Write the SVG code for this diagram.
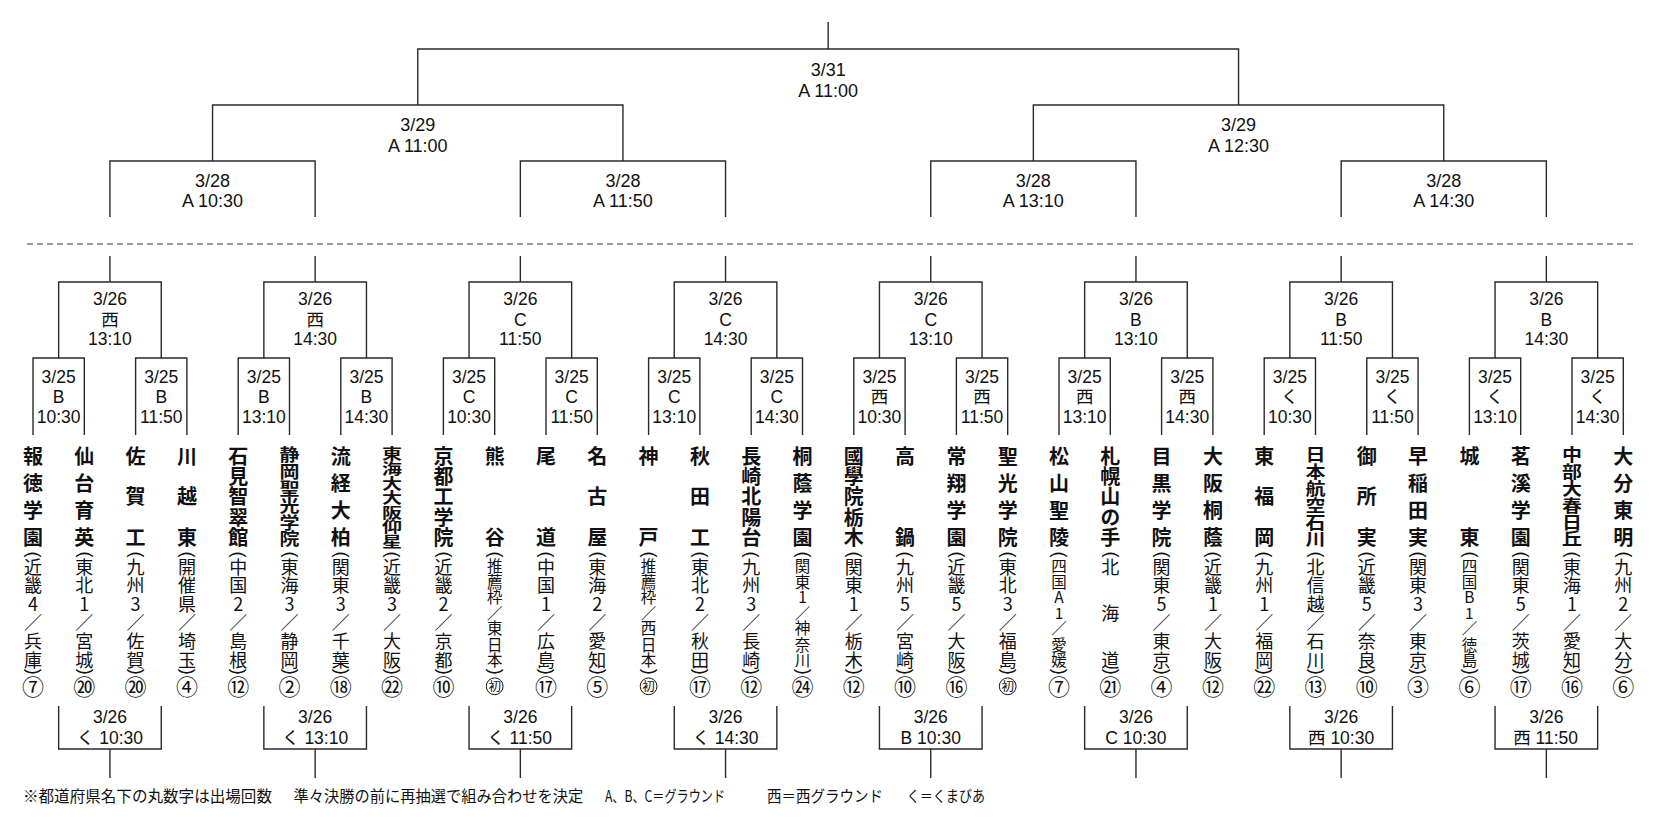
<svg xmlns="http://www.w3.org/2000/svg" width="1664" height="817" viewBox="0 0 1664 817">
<style>
.ln{fill:none;stroke:#2a2a2a;stroke-width:1.4}
.dash{fill:none;stroke:#3a3a3a;stroke-width:1.2;stroke-dasharray:6 4}
.lb{font-family:"Liberation Sans","Noto Sans CJK JP",sans-serif;font-size:18px;text-anchor:middle;fill:#111}
.ls{font-family:"Liberation Sans","Noto Sans CJK JP",sans-serif;font-size:17.5px;text-anchor:middle;fill:#111}
.lt{font-family:"Liberation Sans","Noto Sans CJK JP",sans-serif;font-size:17.5px;text-anchor:start;fill:#111}
.v{writing-mode:vertical-rl;text-orientation:upright;text-anchor:middle;fill:#111}
.vl{font-family:"Noto Sans CJK JP",sans-serif;font-size:17.5px}
.nm{font-family:"Noto Sans CJK JP",sans-serif;font-size:20px;font-weight:700}
.rg{font-family:"Noto Sans CJK JP","Liberation Sans",sans-serif;font-size:18px}
.rs{font-family:"Noto Sans CJK JP","Liberation Sans",sans-serif;font-size:15.5px}
.ct{font-family:"Noto Sans CJK JP",sans-serif;font-size:22px}
.cs{font-family:"Noto Sans CJK JP",sans-serif;font-size:12.5px}
.pr{font-family:"Liberation Sans",sans-serif;font-size:18px;text-anchor:middle;fill:#111}
.cc{fill:none;stroke:#111;stroke-width:1}
.nt{font-family:"Noto Sans CJK JP",sans-serif;font-size:15.5px;fill:#111}
</style>
<rect width="1664" height="817" fill="#fff"/>

<g id="connectors">
<path class="ln" d="M417.75,105 V49 H1238.55 V105 M828.15,49 V22"/>
<path class="ln" d="M212.55,161 V105 H622.95 V161"/>
<path class="ln" d="M1033.35,161 V105 H1443.75 V161"/>
<path class="ln" d="M109.95,217 V161 H315.15 V217"/>
<path class="ln" d="M520.35,217 V161 H725.55 V217"/>
<path class="ln" d="M930.75,217 V161 H1135.95 V217"/>
<path class="ln" d="M1341.15,217 V161 H1546.35 V217"/>
<path class="dash" d="M27,244 H1634"/>
<path class="ln" d="M109.95,256 V282 M58.65,358 V282 H161.25 V358"/>
<path class="ln" d="M315.15,256 V282 M263.85,358 V282 H366.45 V358"/>
<path class="ln" d="M520.35,256 V282 M469.05,358 V282 H571.65 V358"/>
<path class="ln" d="M725.55,256 V282 M674.25,358 V282 H776.85 V358"/>
<path class="ln" d="M930.75,256 V282 M879.45,358 V282 H982.05 V358"/>
<path class="ln" d="M1135.95,256 V282 M1084.65,358 V282 H1187.25 V358"/>
<path class="ln" d="M1341.15,256 V282 M1289.85,358 V282 H1392.45 V358"/>
<path class="ln" d="M1546.35,256 V282 M1495.05,358 V282 H1597.65 V358"/>
<path class="ln" d="M33,435 V358 H84.3 V435"/>
<path class="ln" d="M135.6,435 V358 H186.9 V435"/>
<path class="ln" d="M238.2,435 V358 H289.5 V435"/>
<path class="ln" d="M340.8,435 V358 H392.1 V435"/>
<path class="ln" d="M443.4,435 V358 H494.7 V435"/>
<path class="ln" d="M546,435 V358 H597.3 V435"/>
<path class="ln" d="M648.6,435 V358 H699.9 V435"/>
<path class="ln" d="M751.2,435 V358 H802.5 V435"/>
<path class="ln" d="M853.8,435 V358 H905.1 V435"/>
<path class="ln" d="M956.4,435 V358 H1007.7 V435"/>
<path class="ln" d="M1059,435 V358 H1110.3 V435"/>
<path class="ln" d="M1161.6,435 V358 H1212.9 V435"/>
<path class="ln" d="M1264.2,435 V358 H1315.5 V435"/>
<path class="ln" d="M1366.8,435 V358 H1418.1 V435"/>
<path class="ln" d="M1469.4,435 V358 H1520.7 V435"/>
<path class="ln" d="M1572,435 V358 H1623.3 V435"/>
<path class="ln" d="M58.65,706 V749 H161.25 V706 M109.95,749 V778"/>
<path class="ln" d="M263.85,706 V749 H366.45 V706 M315.15,749 V778"/>
<path class="ln" d="M469.05,706 V749 H571.65 V706 M520.35,749 V778"/>
<path class="ln" d="M674.25,706 V749 H776.85 V706 M725.55,749 V778"/>
<path class="ln" d="M879.45,706 V749 H982.05 V706 M930.75,749 V778"/>
<path class="ln" d="M1084.65,706 V749 H1187.25 V706 M1135.95,749 V778"/>
<path class="ln" d="M1289.85,706 V749 H1392.45 V706 M1341.15,749 V778"/>
<path class="ln" d="M1495.05,706 V749 H1597.65 V706 M1546.35,749 V778"/>
</g>

<g id="final"><text class="lb"><tspan x="828.15" y="75.5">3/31</tspan><tspan x="828.15" y="96.5">A 11:00</tspan></text></g>
<g id="sf1"><text class="lb"><tspan x="417.75" y="130.5">3/29</tspan><tspan x="417.75" y="151.5">A 11:00</tspan></text></g>
<g id="sf2"><text class="lb"><tspan x="1238.55" y="130.5">3/29</tspan><tspan x="1238.55" y="151.5">A 12:30</tspan></text></g>
<g id="qf1"><text class="lb"><tspan x="212.55" y="186.5">3/28</tspan><tspan x="212.55" y="206.8">A 10:30</tspan></text></g>
<g id="qf2"><text class="lb"><tspan x="622.95" y="186.5">3/28</tspan><tspan x="622.95" y="206.8">A 11:50</tspan></text></g>
<g id="qf3"><text class="lb"><tspan x="1033.35" y="186.5">3/28</tspan><tspan x="1033.35" y="206.8">A 13:10</tspan></text></g>
<g id="qf4"><text class="lb"><tspan x="1443.75" y="186.5">3/28</tspan><tspan x="1443.75" y="206.8">A 14:30</tspan></text></g>

<g id="r2-1"><text class="ls"><tspan x="109.95" y="304.6">3/26</tspan><tspan x="109.95" y="344.6">13:10</tspan></text><text class="v vl" x="109.95" y="319">西</text></g>
<g id="r2-2"><text class="ls"><tspan x="315.15" y="304.6">3/26</tspan><tspan x="315.15" y="344.6">14:30</tspan></text><text class="v vl" x="315.15" y="319">西</text></g>
<g id="r2-3"><text class="ls"><tspan x="520.35" y="304.6">3/26</tspan><tspan x="520.35" y="325.5">C</tspan><tspan x="520.35" y="344.6">11:50</tspan></text></g>
<g id="r2-4"><text class="ls"><tspan x="725.55" y="304.6">3/26</tspan><tspan x="725.55" y="325.5">C</tspan><tspan x="725.55" y="344.6">14:30</tspan></text></g>
<g id="r2-5"><text class="ls"><tspan x="930.75" y="304.6">3/26</tspan><tspan x="930.75" y="325.5">C</tspan><tspan x="930.75" y="344.6">13:10</tspan></text></g>
<g id="r2-6"><text class="ls"><tspan x="1135.95" y="304.6">3/26</tspan><tspan x="1135.95" y="325.5">B</tspan><tspan x="1135.95" y="344.6">13:10</tspan></text></g>
<g id="r2-7"><text class="ls"><tspan x="1341.15" y="304.6">3/26</tspan><tspan x="1341.15" y="325.5">B</tspan><tspan x="1341.15" y="344.6">11:50</tspan></text></g>
<g id="r2-8"><text class="ls"><tspan x="1546.35" y="304.6">3/26</tspan><tspan x="1546.35" y="325.5">B</tspan><tspan x="1546.35" y="344.6">14:30</tspan></text></g>

<g id="r1-1"><text class="ls"><tspan x="58.65" y="382.6">3/25</tspan><tspan x="58.65" y="402.6">B</tspan><tspan x="58.65" y="423">10:30</tspan></text></g>
<g id="r1-2"><text class="ls"><tspan x="161.25" y="382.6">3/25</tspan><tspan x="161.25" y="402.6">B</tspan><tspan x="161.25" y="423">11:50</tspan></text></g>
<g id="r1-3"><text class="ls"><tspan x="263.85" y="382.6">3/25</tspan><tspan x="263.85" y="402.6">B</tspan><tspan x="263.85" y="423">13:10</tspan></text></g>
<g id="r1-4"><text class="ls"><tspan x="366.45" y="382.6">3/25</tspan><tspan x="366.45" y="402.6">B</tspan><tspan x="366.45" y="423">14:30</tspan></text></g>
<g id="r1-5"><text class="ls"><tspan x="469.05" y="382.6">3/25</tspan><tspan x="469.05" y="402.6">C</tspan><tspan x="469.05" y="423">10:30</tspan></text></g>
<g id="r1-6"><text class="ls"><tspan x="571.65" y="382.6">3/25</tspan><tspan x="571.65" y="402.6">C</tspan><tspan x="571.65" y="423">11:50</tspan></text></g>
<g id="r1-7"><text class="ls"><tspan x="674.25" y="382.6">3/25</tspan><tspan x="674.25" y="402.6">C</tspan><tspan x="674.25" y="423">13:10</tspan></text></g>
<g id="r1-8"><text class="ls"><tspan x="776.85" y="382.6">3/25</tspan><tspan x="776.85" y="402.6">C</tspan><tspan x="776.85" y="423">14:30</tspan></text></g>
<g id="r1-9"><text class="ls"><tspan x="879.45" y="382.6">3/25</tspan><tspan x="879.45" y="423">10:30</tspan></text><text class="v vl" x="879.45" y="396">西</text></g>
<g id="r1-10"><text class="ls"><tspan x="982.05" y="382.6">3/25</tspan><tspan x="982.05" y="423">11:50</tspan></text><text class="v vl" x="982.05" y="396">西</text></g>
<g id="r1-11"><text class="ls"><tspan x="1084.65" y="382.6">3/25</tspan><tspan x="1084.65" y="423">13:10</tspan></text><text class="v vl" x="1084.65" y="396">西</text></g>
<g id="r1-12"><text class="ls"><tspan x="1187.25" y="382.6">3/25</tspan><tspan x="1187.25" y="423">14:30</tspan></text><text class="v vl" x="1187.25" y="396">西</text></g>
<g id="r1-13"><text class="ls"><tspan x="1289.85" y="382.6">3/25</tspan><tspan x="1289.85" y="423">10:30</tspan></text><text class="v vl" x="1289.85" y="396">く</text></g>
<g id="r1-14"><text class="ls"><tspan x="1392.45" y="382.6">3/25</tspan><tspan x="1392.45" y="423">11:50</tspan></text><text class="v vl" x="1392.45" y="396">く</text></g>
<g id="r1-15"><text class="ls"><tspan x="1495.05" y="382.6">3/25</tspan><tspan x="1495.05" y="423">13:10</tspan></text><text class="v vl" x="1495.05" y="396">く</text></g>
<g id="r1-16"><text class="ls"><tspan x="1597.65" y="382.6">3/25</tspan><tspan x="1597.65" y="423">14:30</tspan></text><text class="v vl" x="1597.65" y="396">く</text></g>

<g id="cs-1"><text class="ls" x="109.95" y="722.5">3/26</text><text class="v vl" x="85.6" y="737.4">く</text><text class="lt" x="99.2" y="744">10:30</text></g>
<g id="cs-2"><text class="ls" x="315.15" y="722.5">3/26</text><text class="v vl" x="290.8" y="737.4">く</text><text class="lt" x="304.4" y="744">13:10</text></g>
<g id="cs-3"><text class="ls" x="520.35" y="722.5">3/26</text><text class="v vl" x="496" y="737.4">く</text><text class="lt" x="509.6" y="744">11:50</text></g>
<g id="cs-4"><text class="ls" x="725.55" y="722.5">3/26</text><text class="v vl" x="701.2" y="737.4">く</text><text class="lt" x="714.8" y="744">14:30</text></g>
<g id="cs-5"><text class="ls"><tspan x="930.75" y="722.5">3/26</tspan><tspan x="930.75" y="744">B 10:30</tspan></text></g>
<g id="cs-6"><text class="ls"><tspan x="1135.95" y="722.5">3/26</tspan><tspan x="1135.95" y="744">C 10:30</tspan></text></g>
<g id="cs-7"><text class="ls" x="1341.15" y="722.5">3/26</text><text class="v vl" x="1316.8" y="737.4">西</text><text class="lt" x="1330.4" y="744">10:30</text></g>
<g id="cs-8"><text class="ls" x="1546.35" y="722.5">3/26</text><text class="v vl" x="1522" y="737.4">西</text><text class="lt" x="1535.6" y="744">11:50</text></g>

<g id="t00">
<text class="v nm"><tspan x="33" y="456.2">報</tspan><tspan x="33" y="483.3">徳</tspan><tspan x="33" y="510.4">学</tspan><tspan x="33" y="537.5">園</tspan></text>
<text class="pr" transform="translate(33,554.5) rotate(90)" y="4.7">(</text>
<text class="v rg"><tspan x="33" y="566.7">近</tspan><tspan x="33" y="585.3">畿</tspan><tspan x="33" y="603.9">4</tspan><tspan x="33" y="622.5">／</tspan><tspan x="33" y="641.1">兵</tspan><tspan x="33" y="659.7">庫</tspan></text>
<text class="pr" transform="translate(33,671.8) rotate(90)" y="4.7">)</text>
<text class="v ct" x="33" y="686.5">⑦</text>
</g>
<g id="t01">
<text class="v nm"><tspan x="84.3" y="456.2">仙</tspan><tspan x="84.3" y="483.3">台</tspan><tspan x="84.3" y="510.4">育</tspan><tspan x="84.3" y="537.5">英</tspan></text>
<text class="pr" transform="translate(84.3,554.5) rotate(90)" y="4.7">(</text>
<text class="v rg"><tspan x="84.3" y="566.7">東</tspan><tspan x="84.3" y="585.3">北</tspan><tspan x="84.3" y="603.9">1</tspan><tspan x="84.3" y="622.5">／</tspan><tspan x="84.3" y="641.1">宮</tspan><tspan x="84.3" y="659.7">城</tspan></text>
<text class="pr" transform="translate(84.3,671.8) rotate(90)" y="4.7">)</text>
<text class="v ct" x="84.3" y="686.5">⑳</text>
</g>
<g id="t02">
<text class="v nm"><tspan x="135.6" y="456.2">佐</tspan><tspan x="135.6" y="496.85">賀</tspan><tspan x="135.6" y="537.5">工</tspan></text>
<text class="pr" transform="translate(135.6,554.5) rotate(90)" y="4.7">(</text>
<text class="v rg"><tspan x="135.6" y="566.7">九</tspan><tspan x="135.6" y="585.3">州</tspan><tspan x="135.6" y="603.9">3</tspan><tspan x="135.6" y="622.5">／</tspan><tspan x="135.6" y="641.1">佐</tspan><tspan x="135.6" y="659.7">賀</tspan></text>
<text class="pr" transform="translate(135.6,671.8) rotate(90)" y="4.7">)</text>
<text class="v ct" x="135.6" y="686.5">⑳</text>
</g>
<g id="t03">
<text class="v nm"><tspan x="186.9" y="456.2">川</tspan><tspan x="186.9" y="496.85">越</tspan><tspan x="186.9" y="537.5">東</tspan></text>
<text class="pr" transform="translate(186.9,554.5) rotate(90)" y="4.7">(</text>
<text class="v rg"><tspan x="186.9" y="566.7">開</tspan><tspan x="186.9" y="585.3">催</tspan><tspan x="186.9" y="603.9">県</tspan><tspan x="186.9" y="622.5">／</tspan><tspan x="186.9" y="641.1">埼</tspan><tspan x="186.9" y="659.7">玉</tspan></text>
<text class="pr" transform="translate(186.9,671.8) rotate(90)" y="4.7">)</text>
<text class="v ct" x="186.9" y="686.5">④</text>
</g>
<g id="t04">
<text class="v nm"><tspan x="238.2" y="456.2">石</tspan><tspan x="238.2" y="476.5">見</tspan><tspan x="238.2" y="496.85">智</tspan><tspan x="238.2" y="517.2">翠</tspan><tspan x="238.2" y="537.5">館</tspan></text>
<text class="pr" transform="translate(238.2,554.5) rotate(90)" y="4.7">(</text>
<text class="v rg"><tspan x="238.2" y="566.7">中</tspan><tspan x="238.2" y="585.3">国</tspan><tspan x="238.2" y="603.9">2</tspan><tspan x="238.2" y="622.5">／</tspan><tspan x="238.2" y="641.1">島</tspan><tspan x="238.2" y="659.7">根</tspan></text>
<text class="pr" transform="translate(238.2,671.8) rotate(90)" y="4.7">)</text>
<text class="v ct" x="238.2" y="686.5">⑫</text>
</g>
<g id="t05">
<text class="v nm" transform="matrix(1 0 0 0.83 0 0)"><tspan x="289.5" y="548.19">静</tspan><tspan x="289.5" y="568.43">岡</tspan><tspan x="289.5" y="588.67">聖</tspan><tspan x="289.5" y="608.92">光</tspan><tspan x="289.5" y="629.16">学</tspan><tspan x="289.5" y="649.4">院</tspan></text>
<text class="pr" transform="translate(289.5,554.5) rotate(90)" y="4.7">(</text>
<text class="v rg"><tspan x="289.5" y="566.7">東</tspan><tspan x="289.5" y="585.3">海</tspan><tspan x="289.5" y="603.9">3</tspan><tspan x="289.5" y="622.5">／</tspan><tspan x="289.5" y="641.1">静</tspan><tspan x="289.5" y="659.7">岡</tspan></text>
<text class="pr" transform="translate(289.5,671.8) rotate(90)" y="4.7">)</text>
<text class="v ct" x="289.5" y="686.5">②</text>
</g>
<g id="t06">
<text class="v nm"><tspan x="340.8" y="456.2">流</tspan><tspan x="340.8" y="483.3">経</tspan><tspan x="340.8" y="510.4">大</tspan><tspan x="340.8" y="537.5">柏</tspan></text>
<text class="pr" transform="translate(340.8,554.5) rotate(90)" y="4.7">(</text>
<text class="v rg"><tspan x="340.8" y="566.7">関</tspan><tspan x="340.8" y="585.3">東</tspan><tspan x="340.8" y="603.9">3</tspan><tspan x="340.8" y="622.5">／</tspan><tspan x="340.8" y="641.1">千</tspan><tspan x="340.8" y="659.7">葉</tspan></text>
<text class="pr" transform="translate(340.8,671.8) rotate(90)" y="4.7">)</text>
<text class="v ct" x="340.8" y="686.5">⑱</text>
</g>
<g id="t07">
<text class="v nm" transform="matrix(1 0 0 0.72 0 0)"><tspan x="392.1" y="630.56">東</tspan><tspan x="392.1" y="650.69">海</tspan><tspan x="392.1" y="670.83">大</tspan><tspan x="392.1" y="690.97">大</tspan><tspan x="392.1" y="711.11">阪</tspan><tspan x="392.1" y="731.25">仰</tspan><tspan x="392.1" y="751.39">星</tspan></text>
<text class="pr" transform="translate(392.1,554.5) rotate(90)" y="4.7">(</text>
<text class="v rg"><tspan x="392.1" y="566.7">近</tspan><tspan x="392.1" y="585.3">畿</tspan><tspan x="392.1" y="603.9">3</tspan><tspan x="392.1" y="622.5">／</tspan><tspan x="392.1" y="641.1">大</tspan><tspan x="392.1" y="659.7">阪</tspan></text>
<text class="pr" transform="translate(392.1,671.8) rotate(90)" y="4.7">)</text>
<text class="v ct" x="392.1" y="686.5">㉒</text>
</g>
<g id="t08">
<text class="v nm"><tspan x="443.4" y="456.2">京</tspan><tspan x="443.4" y="476.5">都</tspan><tspan x="443.4" y="496.85">工</tspan><tspan x="443.4" y="517.2">学</tspan><tspan x="443.4" y="537.5">院</tspan></text>
<text class="pr" transform="translate(443.4,554.5) rotate(90)" y="4.7">(</text>
<text class="v rg"><tspan x="443.4" y="566.7">近</tspan><tspan x="443.4" y="585.3">畿</tspan><tspan x="443.4" y="603.9">2</tspan><tspan x="443.4" y="622.5">／</tspan><tspan x="443.4" y="641.1">京</tspan><tspan x="443.4" y="659.7">都</tspan></text>
<text class="pr" transform="translate(443.4,671.8) rotate(90)" y="4.7">)</text>
<text class="v ct" x="443.4" y="686.5">⑩</text>
</g>
<g id="t09">
<text class="v nm"><tspan x="494.7" y="456.2">熊</tspan><tspan x="494.7" y="537.5">谷</tspan></text>
<text class="pr" transform="translate(494.7,554.5) rotate(90)" y="4.7">(</text>
<text class="v rs"><tspan x="494.7" y="565.7">推</tspan><tspan x="494.7" y="581.4">薦</tspan><tspan x="494.7" y="597.1">枠</tspan><tspan x="494.7" y="612.9">／</tspan><tspan x="494.7" y="628.6">東</tspan><tspan x="494.7" y="644.3">日</tspan><tspan x="494.7" y="659.9">本</tspan></text>
<text class="pr" transform="translate(494.7,671.8) rotate(90)" y="4.7">)</text>
<circle class="cc" cx="494.7" cy="686.3" r="8.4"/><text class="v cs" x="494.7" y="686.3">初</text>
</g>
<g id="t10">
<text class="v nm"><tspan x="546" y="456.2">尾</tspan><tspan x="546" y="537.5">道</tspan></text>
<text class="pr" transform="translate(546,554.5) rotate(90)" y="4.7">(</text>
<text class="v rg"><tspan x="546" y="566.7">中</tspan><tspan x="546" y="585.3">国</tspan><tspan x="546" y="603.9">1</tspan><tspan x="546" y="622.5">／</tspan><tspan x="546" y="641.1">広</tspan><tspan x="546" y="659.7">島</tspan></text>
<text class="pr" transform="translate(546,671.8) rotate(90)" y="4.7">)</text>
<text class="v ct" x="546" y="686.5">⑰</text>
</g>
<g id="t11">
<text class="v nm"><tspan x="597.3" y="456.2">名</tspan><tspan x="597.3" y="496.85">古</tspan><tspan x="597.3" y="537.5">屋</tspan></text>
<text class="pr" transform="translate(597.3,554.5) rotate(90)" y="4.7">(</text>
<text class="v rg"><tspan x="597.3" y="566.7">東</tspan><tspan x="597.3" y="585.3">海</tspan><tspan x="597.3" y="603.9">2</tspan><tspan x="597.3" y="622.5">／</tspan><tspan x="597.3" y="641.1">愛</tspan><tspan x="597.3" y="659.7">知</tspan></text>
<text class="pr" transform="translate(597.3,671.8) rotate(90)" y="4.7">)</text>
<text class="v ct" x="597.3" y="686.5">⑤</text>
</g>
<g id="t12">
<text class="v nm"><tspan x="648.6" y="456.2">神</tspan><tspan x="648.6" y="537.5">戸</tspan></text>
<text class="pr" transform="translate(648.6,554.5) rotate(90)" y="4.7">(</text>
<text class="v rs"><tspan x="648.6" y="565.7">推</tspan><tspan x="648.6" y="581.4">薦</tspan><tspan x="648.6" y="597.1">枠</tspan><tspan x="648.6" y="612.9">／</tspan><tspan x="648.6" y="628.6">西</tspan><tspan x="648.6" y="644.3">日</tspan><tspan x="648.6" y="659.9">本</tspan></text>
<text class="pr" transform="translate(648.6,671.8) rotate(90)" y="4.7">)</text>
<circle class="cc" cx="648.6" cy="686.3" r="8.4"/><text class="v cs" x="648.6" y="686.3">初</text>
</g>
<g id="t13">
<text class="v nm"><tspan x="699.9" y="456.2">秋</tspan><tspan x="699.9" y="496.85">田</tspan><tspan x="699.9" y="537.5">工</tspan></text>
<text class="pr" transform="translate(699.9,554.5) rotate(90)" y="4.7">(</text>
<text class="v rg"><tspan x="699.9" y="566.7">東</tspan><tspan x="699.9" y="585.3">北</tspan><tspan x="699.9" y="603.9">2</tspan><tspan x="699.9" y="622.5">／</tspan><tspan x="699.9" y="641.1">秋</tspan><tspan x="699.9" y="659.7">田</tspan></text>
<text class="pr" transform="translate(699.9,671.8) rotate(90)" y="4.7">)</text>
<text class="v ct" x="699.9" y="686.5">⑰</text>
</g>
<g id="t14">
<text class="v nm"><tspan x="751.2" y="456.2">長</tspan><tspan x="751.2" y="476.5">崎</tspan><tspan x="751.2" y="496.85">北</tspan><tspan x="751.2" y="517.2">陽</tspan><tspan x="751.2" y="537.5">台</tspan></text>
<text class="pr" transform="translate(751.2,554.5) rotate(90)" y="4.7">(</text>
<text class="v rg"><tspan x="751.2" y="566.7">九</tspan><tspan x="751.2" y="585.3">州</tspan><tspan x="751.2" y="603.9">3</tspan><tspan x="751.2" y="622.5">／</tspan><tspan x="751.2" y="641.1">長</tspan><tspan x="751.2" y="659.7">崎</tspan></text>
<text class="pr" transform="translate(751.2,671.8) rotate(90)" y="4.7">)</text>
<text class="v ct" x="751.2" y="686.5">⑫</text>
</g>
<g id="t15">
<text class="v nm"><tspan x="802.5" y="456.2">桐</tspan><tspan x="802.5" y="483.3">蔭</tspan><tspan x="802.5" y="510.4">学</tspan><tspan x="802.5" y="537.5">園</tspan></text>
<text class="pr" transform="translate(802.5,554.5) rotate(90)" y="4.7">(</text>
<text class="v rs"><tspan x="802.5" y="565.7">関</tspan><tspan x="802.5" y="581.4">東</tspan><tspan x="802.5" y="597.1">1</tspan><tspan x="802.5" y="612.9">／</tspan><tspan x="802.5" y="628.6">神</tspan><tspan x="802.5" y="644.3">奈</tspan><tspan x="802.5" y="659.9">川</tspan></text>
<text class="pr" transform="translate(802.5,671.8) rotate(90)" y="4.7">)</text>
<text class="v ct" x="802.5" y="686.5">㉔</text>
</g>
<g id="t16">
<text class="v nm"><tspan x="853.8" y="456.2">國</tspan><tspan x="853.8" y="476.5">學</tspan><tspan x="853.8" y="496.85">院</tspan><tspan x="853.8" y="517.2">栃</tspan><tspan x="853.8" y="537.5">木</tspan></text>
<text class="pr" transform="translate(853.8,554.5) rotate(90)" y="4.7">(</text>
<text class="v rg"><tspan x="853.8" y="566.7">関</tspan><tspan x="853.8" y="585.3">東</tspan><tspan x="853.8" y="603.9">1</tspan><tspan x="853.8" y="622.5">／</tspan><tspan x="853.8" y="641.1">栃</tspan><tspan x="853.8" y="659.7">木</tspan></text>
<text class="pr" transform="translate(853.8,671.8) rotate(90)" y="4.7">)</text>
<text class="v ct" x="853.8" y="686.5">⑫</text>
</g>
<g id="t17">
<text class="v nm"><tspan x="905.1" y="456.2">高</tspan><tspan x="905.1" y="537.5">鍋</tspan></text>
<text class="pr" transform="translate(905.1,554.5) rotate(90)" y="4.7">(</text>
<text class="v rg"><tspan x="905.1" y="566.7">九</tspan><tspan x="905.1" y="585.3">州</tspan><tspan x="905.1" y="603.9">5</tspan><tspan x="905.1" y="622.5">／</tspan><tspan x="905.1" y="641.1">宮</tspan><tspan x="905.1" y="659.7">崎</tspan></text>
<text class="pr" transform="translate(905.1,671.8) rotate(90)" y="4.7">)</text>
<text class="v ct" x="905.1" y="686.5">⑩</text>
</g>
<g id="t18">
<text class="v nm"><tspan x="956.4" y="456.2">常</tspan><tspan x="956.4" y="483.3">翔</tspan><tspan x="956.4" y="510.4">学</tspan><tspan x="956.4" y="537.5">園</tspan></text>
<text class="pr" transform="translate(956.4,554.5) rotate(90)" y="4.7">(</text>
<text class="v rg"><tspan x="956.4" y="566.7">近</tspan><tspan x="956.4" y="585.3">畿</tspan><tspan x="956.4" y="603.9">5</tspan><tspan x="956.4" y="622.5">／</tspan><tspan x="956.4" y="641.1">大</tspan><tspan x="956.4" y="659.7">阪</tspan></text>
<text class="pr" transform="translate(956.4,671.8) rotate(90)" y="4.7">)</text>
<text class="v ct" x="956.4" y="686.5">⑯</text>
</g>
<g id="t19">
<text class="v nm"><tspan x="1007.7" y="456.2">聖</tspan><tspan x="1007.7" y="483.3">光</tspan><tspan x="1007.7" y="510.4">学</tspan><tspan x="1007.7" y="537.5">院</tspan></text>
<text class="pr" transform="translate(1007.7,554.5) rotate(90)" y="4.7">(</text>
<text class="v rg"><tspan x="1007.7" y="566.7">東</tspan><tspan x="1007.7" y="585.3">北</tspan><tspan x="1007.7" y="603.9">3</tspan><tspan x="1007.7" y="622.5">／</tspan><tspan x="1007.7" y="641.1">福</tspan><tspan x="1007.7" y="659.7">島</tspan></text>
<text class="pr" transform="translate(1007.7,671.8) rotate(90)" y="4.7">)</text>
<circle class="cc" cx="1007.7" cy="686.3" r="8.4"/><text class="v cs" x="1007.7" y="686.3">初</text>
</g>
<g id="t20">
<text class="v nm"><tspan x="1059" y="456.2">松</tspan><tspan x="1059" y="483.3">山</tspan><tspan x="1059" y="510.4">聖</tspan><tspan x="1059" y="537.5">陵</tspan></text>
<text class="pr" transform="translate(1059,554.5) rotate(90)" y="4.7">(</text>
<text class="v rs"><tspan x="1059" y="565.7">四</tspan><tspan x="1059" y="581.4">国</tspan><tspan x="1059" y="597.1">A</tspan><tspan x="1059" y="612.9">1</tspan><tspan x="1059" y="628.6">／</tspan><tspan x="1059" y="644.3">愛</tspan><tspan x="1059" y="659.9">媛</tspan></text>
<text class="pr" transform="translate(1059,671.8) rotate(90)" y="4.7">)</text>
<text class="v ct" x="1059" y="686.5">⑦</text>
</g>
<g id="t21">
<text class="v nm"><tspan x="1110.3" y="456.2">札</tspan><tspan x="1110.3" y="476.5">幌</tspan><tspan x="1110.3" y="496.85">山</tspan><tspan x="1110.3" y="517.2">の</tspan><tspan x="1110.3" y="537.5">手</tspan></text>
<text class="pr" transform="translate(1110.3,554.5) rotate(90)" y="4.7">(</text>
<text class="v rg"><tspan x="1110.3" y="566.7">北</tspan><tspan x="1110.3" y="613.3">海</tspan><tspan x="1110.3" y="659.7">道</tspan></text>
<text class="pr" transform="translate(1110.3,671.8) rotate(90)" y="4.7">)</text>
<text class="v ct" x="1110.3" y="686.5">㉑</text>
</g>
<g id="t22">
<text class="v nm"><tspan x="1161.6" y="456.2">目</tspan><tspan x="1161.6" y="483.3">黒</tspan><tspan x="1161.6" y="510.4">学</tspan><tspan x="1161.6" y="537.5">院</tspan></text>
<text class="pr" transform="translate(1161.6,554.5) rotate(90)" y="4.7">(</text>
<text class="v rg"><tspan x="1161.6" y="566.7">関</tspan><tspan x="1161.6" y="585.3">東</tspan><tspan x="1161.6" y="603.9">5</tspan><tspan x="1161.6" y="622.5">／</tspan><tspan x="1161.6" y="641.1">東</tspan><tspan x="1161.6" y="659.7">京</tspan></text>
<text class="pr" transform="translate(1161.6,671.8) rotate(90)" y="4.7">)</text>
<text class="v ct" x="1161.6" y="686.5">④</text>
</g>
<g id="t23">
<text class="v nm"><tspan x="1212.9" y="456.2">大</tspan><tspan x="1212.9" y="483.3">阪</tspan><tspan x="1212.9" y="510.4">桐</tspan><tspan x="1212.9" y="537.5">蔭</tspan></text>
<text class="pr" transform="translate(1212.9,554.5) rotate(90)" y="4.7">(</text>
<text class="v rg"><tspan x="1212.9" y="566.7">近</tspan><tspan x="1212.9" y="585.3">畿</tspan><tspan x="1212.9" y="603.9">1</tspan><tspan x="1212.9" y="622.5">／</tspan><tspan x="1212.9" y="641.1">大</tspan><tspan x="1212.9" y="659.7">阪</tspan></text>
<text class="pr" transform="translate(1212.9,671.8) rotate(90)" y="4.7">)</text>
<text class="v ct" x="1212.9" y="686.5">⑫</text>
</g>
<g id="t24">
<text class="v nm"><tspan x="1264.2" y="456.2">東</tspan><tspan x="1264.2" y="496.85">福</tspan><tspan x="1264.2" y="537.5">岡</tspan></text>
<text class="pr" transform="translate(1264.2,554.5) rotate(90)" y="4.7">(</text>
<text class="v rg"><tspan x="1264.2" y="566.7">九</tspan><tspan x="1264.2" y="585.3">州</tspan><tspan x="1264.2" y="603.9">1</tspan><tspan x="1264.2" y="622.5">／</tspan><tspan x="1264.2" y="641.1">福</tspan><tspan x="1264.2" y="659.7">岡</tspan></text>
<text class="pr" transform="translate(1264.2,671.8) rotate(90)" y="4.7">)</text>
<text class="v ct" x="1264.2" y="686.5">㉒</text>
</g>
<g id="t25">
<text class="v nm" transform="matrix(1 0 0 0.83 0 0)"><tspan x="1315.5" y="548.19">日</tspan><tspan x="1315.5" y="568.43">本</tspan><tspan x="1315.5" y="588.67">航</tspan><tspan x="1315.5" y="608.92">空</tspan><tspan x="1315.5" y="629.16">石</tspan><tspan x="1315.5" y="649.4">川</tspan></text>
<text class="pr" transform="translate(1315.5,554.5) rotate(90)" y="4.7">(</text>
<text class="v rg"><tspan x="1315.5" y="566.7">北</tspan><tspan x="1315.5" y="585.3">信</tspan><tspan x="1315.5" y="603.9">越</tspan><tspan x="1315.5" y="622.5">／</tspan><tspan x="1315.5" y="641.1">石</tspan><tspan x="1315.5" y="659.7">川</tspan></text>
<text class="pr" transform="translate(1315.5,671.8) rotate(90)" y="4.7">)</text>
<text class="v ct" x="1315.5" y="686.5">⑬</text>
</g>
<g id="t26">
<text class="v nm"><tspan x="1366.8" y="456.2">御</tspan><tspan x="1366.8" y="496.85">所</tspan><tspan x="1366.8" y="537.5">実</tspan></text>
<text class="pr" transform="translate(1366.8,554.5) rotate(90)" y="4.7">(</text>
<text class="v rg"><tspan x="1366.8" y="566.7">近</tspan><tspan x="1366.8" y="585.3">畿</tspan><tspan x="1366.8" y="603.9">5</tspan><tspan x="1366.8" y="622.5">／</tspan><tspan x="1366.8" y="641.1">奈</tspan><tspan x="1366.8" y="659.7">良</tspan></text>
<text class="pr" transform="translate(1366.8,671.8) rotate(90)" y="4.7">)</text>
<text class="v ct" x="1366.8" y="686.5">⑩</text>
</g>
<g id="t27">
<text class="v nm"><tspan x="1418.1" y="456.2">早</tspan><tspan x="1418.1" y="483.3">稲</tspan><tspan x="1418.1" y="510.4">田</tspan><tspan x="1418.1" y="537.5">実</tspan></text>
<text class="pr" transform="translate(1418.1,554.5) rotate(90)" y="4.7">(</text>
<text class="v rg"><tspan x="1418.1" y="566.7">関</tspan><tspan x="1418.1" y="585.3">東</tspan><tspan x="1418.1" y="603.9">3</tspan><tspan x="1418.1" y="622.5">／</tspan><tspan x="1418.1" y="641.1">東</tspan><tspan x="1418.1" y="659.7">京</tspan></text>
<text class="pr" transform="translate(1418.1,671.8) rotate(90)" y="4.7">)</text>
<text class="v ct" x="1418.1" y="686.5">③</text>
</g>
<g id="t28">
<text class="v nm"><tspan x="1469.4" y="456.2">城</tspan><tspan x="1469.4" y="537.5">東</tspan></text>
<text class="pr" transform="translate(1469.4,554.5) rotate(90)" y="4.7">(</text>
<text class="v rs"><tspan x="1469.4" y="565.7">四</tspan><tspan x="1469.4" y="581.4">国</tspan><tspan x="1469.4" y="597.1">B</tspan><tspan x="1469.4" y="612.9">1</tspan><tspan x="1469.4" y="628.6">／</tspan><tspan x="1469.4" y="644.3">徳</tspan><tspan x="1469.4" y="659.9">島</tspan></text>
<text class="pr" transform="translate(1469.4,671.8) rotate(90)" y="4.7">)</text>
<text class="v ct" x="1469.4" y="686.5">⑥</text>
</g>
<g id="t29">
<text class="v nm"><tspan x="1520.7" y="456.2">茗</tspan><tspan x="1520.7" y="483.3">溪</tspan><tspan x="1520.7" y="510.4">学</tspan><tspan x="1520.7" y="537.5">園</tspan></text>
<text class="pr" transform="translate(1520.7,554.5) rotate(90)" y="4.7">(</text>
<text class="v rg"><tspan x="1520.7" y="566.7">関</tspan><tspan x="1520.7" y="585.3">東</tspan><tspan x="1520.7" y="603.9">5</tspan><tspan x="1520.7" y="622.5">／</tspan><tspan x="1520.7" y="641.1">茨</tspan><tspan x="1520.7" y="659.7">城</tspan></text>
<text class="pr" transform="translate(1520.7,671.8) rotate(90)" y="4.7">)</text>
<text class="v ct" x="1520.7" y="686.5">⑰</text>
</g>
<g id="t30">
<text class="v nm" transform="matrix(1 0 0 0.83 0 0)"><tspan x="1572" y="548.19">中</tspan><tspan x="1572" y="568.43">部</tspan><tspan x="1572" y="588.67">大</tspan><tspan x="1572" y="608.92">春</tspan><tspan x="1572" y="629.16">日</tspan><tspan x="1572" y="649.4">丘</tspan></text>
<text class="pr" transform="translate(1572,554.5) rotate(90)" y="4.7">(</text>
<text class="v rg"><tspan x="1572" y="566.7">東</tspan><tspan x="1572" y="585.3">海</tspan><tspan x="1572" y="603.9">1</tspan><tspan x="1572" y="622.5">／</tspan><tspan x="1572" y="641.1">愛</tspan><tspan x="1572" y="659.7">知</tspan></text>
<text class="pr" transform="translate(1572,671.8) rotate(90)" y="4.7">)</text>
<text class="v ct" x="1572" y="686.5">⑯</text>
</g>
<g id="t31">
<text class="v nm"><tspan x="1623.3" y="456.2">大</tspan><tspan x="1623.3" y="483.3">分</tspan><tspan x="1623.3" y="510.4">東</tspan><tspan x="1623.3" y="537.5">明</tspan></text>
<text class="pr" transform="translate(1623.3,554.5) rotate(90)" y="4.7">(</text>
<text class="v rg"><tspan x="1623.3" y="566.7">九</tspan><tspan x="1623.3" y="585.3">州</tspan><tspan x="1623.3" y="603.9">2</tspan><tspan x="1623.3" y="622.5">／</tspan><tspan x="1623.3" y="641.1">大</tspan><tspan x="1623.3" y="659.7">分</tspan></text>
<text class="pr" transform="translate(1623.3,671.8) rotate(90)" y="4.7">)</text>
<text class="v ct" x="1623.3" y="686.5">⑥</text>
</g>

<g id="note">
<text class="nt" x="23" y="802" textLength="249" lengthAdjust="spacingAndGlyphs">※都道府県名下の丸数字は出場回数</text>
<text class="nt" x="293.6" y="802" textLength="289.7" lengthAdjust="spacingAndGlyphs">準々決勝の前に再抽選で組み合わせを決定</text>
<text class="nt" x="605" y="802" textLength="120" lengthAdjust="spacingAndGlyphs">A、B、C＝グラウンド</text>
<text class="nt" x="767" y="802" textLength="116" lengthAdjust="spacingAndGlyphs">西＝西グラウンド</text>
<text class="nt" x="906.7" y="802" textLength="78.3" lengthAdjust="spacingAndGlyphs">く＝くまびあ</text>
</g>
</svg>
